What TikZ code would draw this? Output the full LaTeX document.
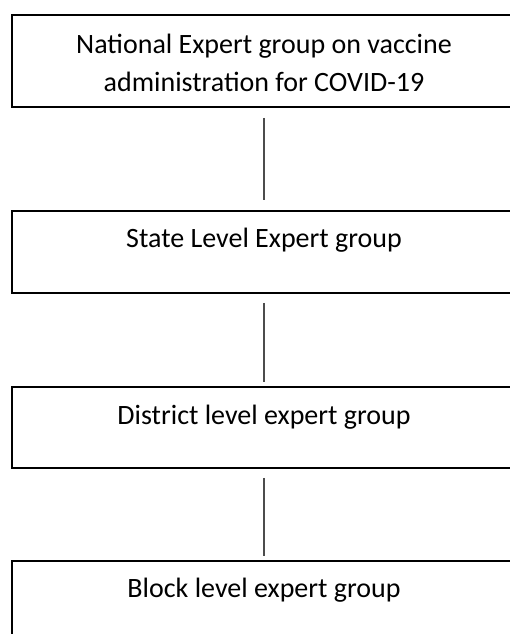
\documentclass[tikz,border=0pt]{standalone}
\usepackage{fontspec}
\setmainfont{Carlito}
\begin{document}
\begin{tikzpicture}[x=1pt, y=-1pt,
  box/.style={draw=black, line width=1.6pt, minimum width=504pt, inner sep=0pt},
  link/.style={draw=black!70, line width=1.2pt},
  lbl/.style={font=\fontsize{28}{38}\selectfont, anchor=base, align=center, inner sep=0pt}]
\useasboundingbox (0,0) rectangle (510,634);
\clip (0,0) rectangle (510,634);
% boxes of the four levels
\node[box, minimum height=92pt] (national) at (264,61) {};
\node[box, minimum height=82pt] (state) at (264,252) {};
\node[box, minimum height=81pt] (district) at (264,427.5) {};
\node[box, minimum height=90pt] (block) at (264,606) {};
% labels (base anchor sits on the last line)
\node[lbl] (tnational) at (264,92) {National Expert group on vaccine\\administration for COVID-19};
\node[lbl] (tstate) at (264,247) {State Level Expert group};
\node[lbl] (tdistrict) at (264,424) {District level expert group};
\node[lbl] (tblock) at (264,597) {Block level expert group};
% connectors
\draw[link, shorten <=10pt, shorten >=10pt] (national.south) -- (state.north);
\draw[link, shorten <=9pt, shorten >=4pt] (state.south) -- (district.north);
\draw[link, shorten <=9pt, shorten >=4pt] (district.south) -- (block.north);
\end{tikzpicture}
\end{document}
